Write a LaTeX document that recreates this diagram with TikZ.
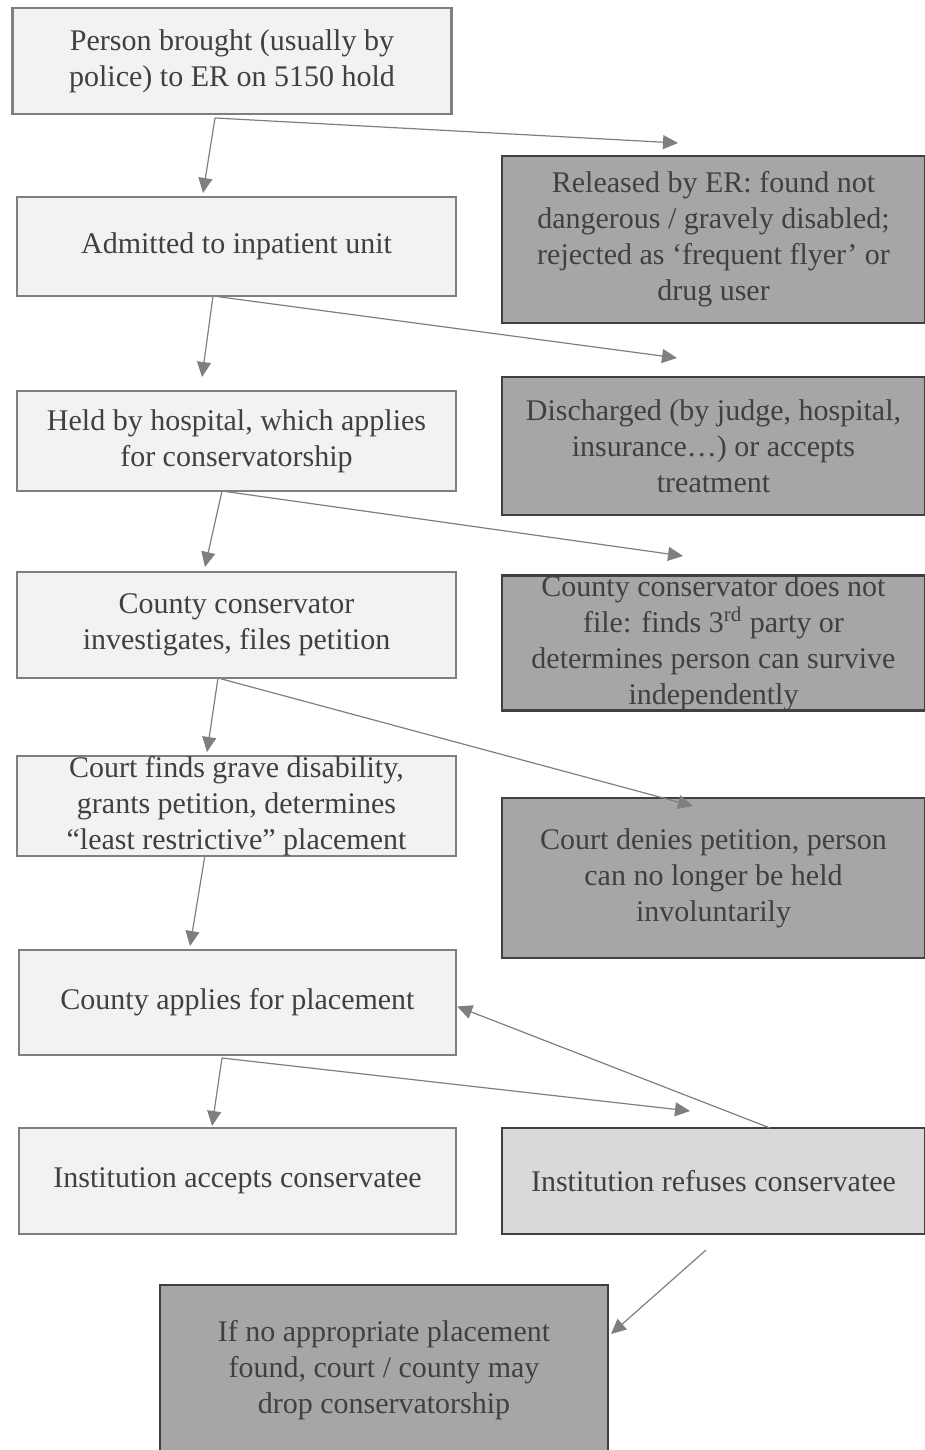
\documentclass[tikz,border=0pt]{standalone}
\usepackage{fontspec}
\setmainfont{Liberation Serif}
\usetikzlibrary{arrows.meta}

\definecolor{lightfill}{HTML}{F2F2F2}
\definecolor{lightline}{HTML}{7F7F7F}
\definecolor{darkfill}{HTML}{A6A6A6}
\definecolor{midfill}{HTML}{D9D9D9}
\definecolor{darkline}{HTML}{404040}
\definecolor{txtgray}{HTML}{404040}
\definecolor{arrowgray}{HTML}{7F7F7F}

\begin{document}
\begin{tikzpicture}[x=0.5pt,y=-0.5pt,
  every node/.style={font=\fontsize{15}{18}\selectfont, text=txtgray, align=center,
    inner sep=0pt, line width=1.2pt},
  stepbox/.style={draw=lightline, fill=lightfill, minimum width=219.5pt},
  outbox/.style={draw=darkline, fill=darkfill, minimum width=211.5pt},
  flow/.style={draw=arrowgray, line width=0.6pt, -{Triangle[length=7.5pt,width=7pt]}, arrowgray}]

\useasboundingbox (0,0) rectangle (925,1450);

% main steps
\node[stepbox, minimum height=53pt] (person) at (232,61) {Person brought (usually by\\ police) to ER on 5150 hold};
\node[stepbox, minimum height=49.5pt] (admitted) at (236.5,246.5) {Admitted to inpatient unit};
\node[stepbox, minimum height=50pt] (held) at (236.5,441) {Held by hospital, which applies\\ for conservatorship};
\node[stepbox, minimum height=53pt] (investigates) at (236.5,625) {County conservator\\ investigates, files petition};
\node[stepbox, minimum height=49pt] (court) at (236.5,806) {Court finds grave disability,\\ grants petition, determines\\ ``least restrictive'' placement};
\node[stepbox, minimum height=52.5pt, minimum width=218.5pt] (applies) at (237.5,1002.5) {County applies for placement};
\node[stepbox, minimum height=53pt, minimum width=218.5pt] (accepts) at (237.5,1181) {Institution accepts conservatee};

% ways out
\node[outbox, minimum height=83.5pt] (released) at (713.5,239.5) {Released by ER: found not\\ dangerous / gravely disabled;\\ rejected as ‘frequent flyer’ or\\ drug user};
\node[outbox, minimum height=69pt] (discharged) at (713.5,446) {Discharged (by judge, hospital,\\ insurance…) or accepts\\ treatment};
\node[outbox, minimum height=67pt] (nofile) at (713.5,643) {County conservator does not\\ file: finds 3\textsuperscript{rd} party or\\ determines person can survive\\ independently};
\node[outbox, minimum height=80pt] (denies) at (713.5,878) {Court denies petition, person\\ can no longer be held\\ involuntarily};
\node[outbox, fill=midfill, minimum height=53pt] (refuses) at (713.5,1181) {Institution refuses conservatee};
\node[outbox, minimum height=85pt, minimum width=224pt] (drop) at (384,1370) {If no appropriate placement\\ found, court / county may\\ drop conservatorship};

% branch points and arrow ends
\coordinate (b1) at (215,118);  \coordinate (d1) at (203,193);  \coordinate (s1) at (678,143);
\coordinate (b2) at (213,296);  \coordinate (d2) at (202,377);  \coordinate (s2) at (677,358);
\coordinate (b3) at (222,491);  \coordinate (d3) at (205,567);  \coordinate (s3) at (683,556);
\coordinate (b4) at (218,678);  \coordinate (d4) at (207,752);  \coordinate (s4) at (693,806);
\coordinate (b6) at (222,1058); \coordinate (d6) at (212,1126); \coordinate (s6) at (690,1111);
\coordinate (b5) at (205,855);  \coordinate (d5) at (190,946);
\coordinate (r1) at (770,1128); \coordinate (r2) at (706,1250); \coordinate (d7) at (611,1334);

\foreach \b/\d/\s in {b1/d1/s1, b2/d2/s2, b3/d3/s3, b4/d4/s4, b6/d6/s6}
{
  \draw[flow] (\b) -- (\d);
  \draw[flow] (\b) -- (\s);
}
\draw[flow] (b5) -- (d5);
\draw[flow] (r1) -- ([yshift=-2pt]applies.east);
\draw[flow] (r2) -- (d7);

\end{tikzpicture}
\end{document}
